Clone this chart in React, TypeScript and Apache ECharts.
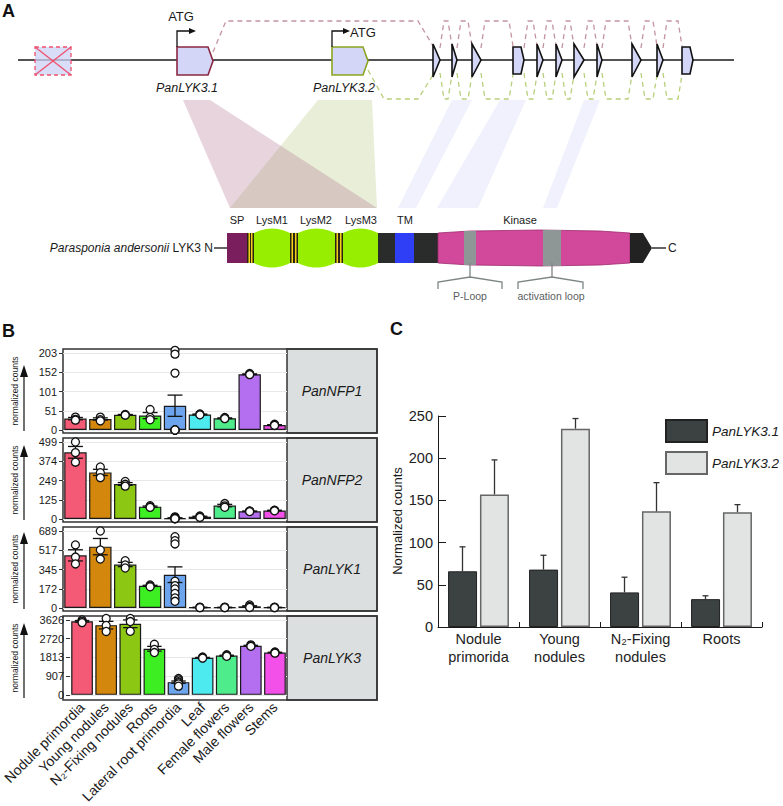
import React, { useEffect, useRef } from 'react';
import * as echarts from 'echarts';

// ---------------- DATA ----------------
const tissues = [
  'Nodule primordia', 'Young nodules', 'N₂-Fixing nodules', 'Roots', 'Lateral root primordia',
  'Leaf', 'Female flowers', 'Male flowers', 'Stems',
];
const tissueColors = ['#f45a76', '#d4870d', '#8cc813', '#3def22', '#6ca4ee', '#4debf0', '#4eec8b', '#b46ef0', '#f250e8'];
const genes = ['PanNFP1', 'PanNFP2', 'PanLYK1', 'PanLYK3'];

const ticksNFP1 = [0, 51, 101, 152, 203];
const ticksNFP2 = [0, 125, 249, 374, 499];
const ticksLYK1 = [0, 172, 345, 517, 689];
const ticksLYK3 = [0, 907, 1813, 2720, 3626];

const meanNFP1 = [30, 29, 40, 38, 64, 41, 31, 147, 13];
const seNFP1 = [3, 3, 1, 8, 28, 1, 1, 1, 1];
const ptsNFP1 = [[34, 28, 26], [34, 27, 24], [41, 40, 39], [54, 33, 27], [210, 200, 150, 0, 0, 0, 0, 0, 0], [42, 41, 40], [33, 31, 30], [149, 147, 146], [15, 13, 12]];

const meanNFP2 = [432, 302, 227, 80, 6, 15, 87, 50, 55];
const seNFP2 = [38, 20, 9, 4, 2, 3, 8, 2, 2];
const ptsNFP2 = [[499, 430, 368], [337, 300, 268], [243, 225, 213], [86, 80, 75], [14, 10, 8, 6, 5, 4, 3, 2, 2], [20, 15, 10], [100, 85, 76], [52, 50, 48], [57, 55, 53]];

const meanLYK1 = [471, 549, 389, 198, 298, 5, 5, 15, 5];
const seLYK1 = [50, 73, 19, 5, 70, 2, 2, 5, 2];
const ptsLYK1 = [[564, 456, 394], [689, 519, 438], [423, 385, 358], [206, 197, 190], [638, 602, 573, 240, 200, 170, 130, 90, 60], [8, 5, 3], [8, 5, 3], [27, 15, 5], [8, 5, 3]];

const meanLYK3 = [3563, 3377, 3443, 2233, 615, 1800, 1900, 2380, 2050];
const seLYK3 = [38, 183, 187, 117, 55, 15, 20, 20, 15];
const ptsLYK3 = [[3630, 3560, 3500], [3700, 3360, 3070], [3700, 3550, 3080], [2450, 2200, 2050], [790, 720, 640, 590, 530, 420], [1830, 1800, 1780], [1940, 1900, 1870], [2420, 2380, 2350], [2080, 2050, 2020]];

const categoriesC = ['Nodule\nprimorida', 'Young\nnodules', 'N₂-Fixing\nnodules', 'Roots'];
const lyk31 = [66, 68, 41, 33];
const lyk31Err = [29, 17, 18, 4];
const lyk32 = [157, 235, 137, 136];
const lyk32Err = [41, 12, 34, 9];
const ticksC = [0, 50, 100, 150, 200, 250];

// ---------------- LAYOUT / STYLE ----------------
const FONT = "'Liberation Sans', Arial, Helvetica, sans-serif";
const PANEL_TOPS = [349, 438, 527, 616];
const PANEL_H = 84;
const PLOT_L = 63;
const PLOT_R = 287;
const STRIP_R = 377;
const ARROW_OFF = [16, 7, 5, 7];

const panelsB = [
  { ticks: ticksNFP1, mean: meanNFP1, se: seNFP1, pts: ptsNFP1 },
  { ticks: ticksNFP2, mean: meanNFP2, se: seNFP2, pts: ptsNFP2 },
  { ticks: ticksLYK1, mean: meanLYK1, se: seLYK1, pts: ptsLYK1 },
  { ticks: ticksLYK3, mean: meanLYK3, se: seLYK3, pts: ptsLYK3 },
];

const smallExons: [number, number, string][] = [
  [433, 440, 't'], [452, 457, 't'], [472, 481, 't'], [513, 524, 'p'], [537, 543, 't'],
  [556, 562, 't'], [574, 584, 't'], [597, 602, 't'], [632, 641, 't'], [657, 663, 't'], [682, 693, 'p'],
];

function txt(x: number, y: number, text: string, o: any = {}) {
  const align = o.align || 'center';
  const va = o.va || 'middle';
  return {
    type: 'text', x, y, silent: true, rotation: o.rotation || 0,
    style: {
      text, fontSize: o.size || 12, fontFamily: FONT,
      fontStyle: o.italic ? 'italic' : 'normal', fontWeight: o.bold ? 'bold' : 'normal',
      fill: o.color || '#1a1a1a', textAlign: align, textVerticalAlign: va, align, verticalAlign: va,
      rich: o.rich,
    },
  };
}
const line = (x1: number, y1: number, x2: number, y2: number, stroke = '#1a1a1a', lineWidth = 1.3, dash?: number[]) => ({
  type: 'line', silent: true, shape: { x1, y1, x2, y2 }, style: { stroke, lineWidth, lineDash: dash },
});
const poly = (points: number[][], fill: string, stroke?: string, lineWidth = 1) => ({
  type: 'polygon', silent: true, shape: { points }, style: { fill, stroke: stroke || 'none', lineWidth },
});
const pline = (points: number[][], stroke: string, lineWidth = 1.3, dash?: number[]) => ({
  type: 'polyline', silent: true, shape: { points }, style: { fill: 'none', stroke, lineWidth, lineDash: dash },
});
const rect = (x: number, y: number, w: number, h: number, fill: string, stroke?: string, lineWidth = 1, dash?: number[]) => ({
  type: 'rect', silent: true, shape: { x, y, width: w, height: h }, style: { fill, stroke: stroke || 'none', lineWidth, lineDash: dash },
});

// arched domain outline (gentle bulge above and below the bar)
function archShape(a: number, b: number, top: number, bot: number, bulge: number) {
  const pts: number[][] = [];
  const n = 12;
  for (let j = 0; j <= n; j++) {
    const t = -1 + (2 * j) / n;
    pts.push([a + ((b - a) * j) / n, top - bulge * (1 - t * t)]);
  }
  for (let j = n; j >= 0; j--) {
    const t = -1 + (2 * j) / n;
    pts.push([a + ((b - a) * j) / n, bot + bulge * (1 - t * t)]);
  }
  return pts;
}

function buildGraphics() {
  const el: any[] = [];
  // panel letters
  el.push(txt(2, 2, 'A', { size: 18, bold: true, align: 'left', va: 'top', color: '#111' }));
  el.push(txt(2, 322, 'B', { size: 18, bold: true, align: 'left', va: 'top', color: '#111' }));
  el.push(txt(390, 320, 'C', { size: 18, bold: true, align: 'left', va: 'top', color: '#111' }));

  // ---- Panel A: projections
  el.push(poly([[318, 100], [372, 100], [377, 208], [230, 208]], 'rgba(190,205,140,0.35)'));
  el.push(poly([[183, 100], [210, 100], [377, 208], [230, 208]], 'rgba(180,120,150,0.32)'));
  el.push(poly([[452, 100], [472, 100], [416, 208], [398, 208]], 'rgba(200,205,245,0.28)'));
  el.push(poly([[500, 100], [526, 100], [478, 208], [437, 208]], 'rgba(200,205,245,0.28)'));
  el.push(poly([[584, 100], [600, 100], [557, 208], [543, 208]], 'rgba(200,205,245,0.28)'));

  // gene line
  el.push(line(18, 60, 734, 60, '#1a1a1a', 1.6));
  // crossed pseudo exon
  el.push(rect(35, 47, 36, 28, 'rgba(205,210,245,0.75)', '#f0506e', 1.3, [4, 3]));
  el.push(line(35, 47, 71, 75, '#f0506e', 1.3));
  el.push(line(35, 75, 71, 47, '#f0506e', 1.3));

  // dashed splicing paths
  const up = '#c4949f';
  const lo = '#b8cf7a';
  const dash = [5, 4];
  el.push(pline([[213, 52], [226, 21], [418, 21], [433, 46]], up, 1.3, dash));
  el.push(pline([[368, 70], [384, 99], [418, 99], [433, 75]], lo, 1.3, dash));
  for (let i = 0; i < smallExons.length - 1; i++) {
    const a = smallExons[i][1];
    const b = smallExons[i + 1][0];
    el.push(pline([[a, 48], [a + 4, 21], [b - 4, 21], [b, 46]], up, 1.3, dash));
    el.push(pline([[a, 73], [a + 4, 99], [b - 4, 99], [b, 75]], lo, 1.3, dash));
  }

  // exons
  const exFill = '#d3d6f6';
  el.push(poly([[177, 47], [208, 47], [213, 61], [208, 75], [177, 75]], exFill, '#8b2942', 1.6));
  el.push(poly([[332, 47], [363, 47], [368, 61], [363, 75], [332, 75]], exFill, '#8aa520', 1.6));
  smallExons.forEach(([x0, x1, t]) => {
    if (t === 't') el.push(poly([[x0, 44], [x1, 60], [x0, 77]], exFill, '#111', 1.6));
    else el.push(poly([[x0, 47], [x1 - 3, 47], [x1, 60], [x1 - 3, 74], [x0, 74]], exFill, '#111', 1.6));
  });

  // ATG arrows
  el.push(pline([[177, 47], [177, 31], [190, 31]], '#111', 1.3));
  el.push(poly([[189, 28], [196, 31], [189, 34]], '#111'));
  el.push(txt(181, 16, 'ATG', { size: 13 }));
  el.push(pline([[332, 47], [332, 31], [344, 31]], '#111', 1.3));
  el.push(poly([[343, 28], [350, 31], [343, 34]], '#111'));
  el.push(txt(350, 32, 'ATG', { size: 13, align: 'left' }));
  el.push(txt(187, 88, 'PanLYK3.1', { size: 12.5, italic: true }));
  el.push(txt(344, 88, 'PanLYK3.2', { size: 12.5, italic: true }));

  // ---- protein
  el.push(txt(213, 248, '{i|Parasponia andersonii} LYK3 N', {
    size: 12, align: 'right',
    rich: { i: { fontStyle: 'italic', fontSize: 12, fontFamily: FONT, fill: '#1a1a1a' } },
  }));
  el.push(line(214, 248, 227, 248, '#111', 1.3));
  el.push(rect(227, 233, 20, 30, '#7b1e5e'));
  [[247, 254], [290, 298], [335, 343]].forEach(([a, b]) => {
    el.push(rect(a, 233, b - a, 30, '#2b2412'));
    el.push(rect(a + 1.5, 233, 1.5, 30, '#f2d01c'));
    el.push(rect(b - 3, 233, 1.5, 30, '#f2d01c'));
  });
  [[254, 290], [298, 335], [343, 378]].forEach(([a, b]) => {
    el.push(poly(archShape(a, b, 233, 263, 4.5), '#98ee00'));
  });
  el.push(rect(378, 233, 17, 30, '#2a2c2c'));
  el.push(rect(395, 233, 19, 30, '#2f3ff5'));
  el.push(rect(414, 233, 24, 30, '#2a2c2c'));
  el.push(poly([[438, 233], [470, 231], [540, 230], [600, 231], [630, 233], [630, 263], [600, 265], [540, 266], [470, 265], [438, 263]], '#d2489a', '#9c2b6e', 0.8));
  el.push(rect(464, 231, 12, 34, '#8f9696'));
  el.push(rect(543, 230, 18, 36, '#8f9696'));
  el.push(poly([[630, 233], [643, 233], [652, 248], [643, 263], [630, 263]], '#222'));
  el.push(line(652, 248, 666, 248, '#111', 1.3));
  el.push(txt(668, 248, 'C', { size: 12, align: 'left' }));
  // domain labels
  [['SP', 237], ['LysM1', 272], ['LysM2', 316], ['LysM3', 361], ['TM', 405], ['Kinase', 520]].forEach(([t, x]) => {
    el.push(txt(x as number, 220, t as string, { size: 11 }));
  });
  // brackets
  const bc = '#7d8585';
  el.push(line(470, 263, 470, 277, bc, 1.3));
  el.push(pline([[438, 289], [438, 282], [470, 277], [502, 282], [502, 289]], bc, 1.3));
  el.push(txt(470, 296, 'P-Loop', { size: 10.5, color: '#5a6060' }));
  el.push(line(552, 263, 552, 277, bc, 1.3));
  el.push(pline([[518, 289], [518, 282], [552, 277], [583, 282], [583, 289]], bc, 1.3));
  el.push(txt(551, 296, 'activation loop', { size: 10.5, color: '#5a6060' }));

  // ---- Panel B frames, strips, y titles
  PANEL_TOPS.forEach((t, k) => {
    el.push(rect(PLOT_R, t, STRIP_R - PLOT_R, PANEL_H, '#dcdfdf', '#333', 1.5));
    el.push(rect(PLOT_L, t, STRIP_R - PLOT_L, PANEL_H, 'transparent', '#333', 1.5));
    el.push(txt((PLOT_R + STRIP_R) / 2, t + PANEL_H / 2, genes[k], { size: 14, italic: true }));
    el.push(txt(15, t + PANEL_H / 2, 'normalized counts', { size: 8.5, rotation: Math.PI / 2 }));
    const h = t + ARROW_OFF[k];
    el.push(line(24, t + 82, 24, h + 10, '#111', 1.2));
    el.push(poly([[24, h], [20, h + 12], [28, h + 12]], '#111'));
  });

  // Panel C y title
  el.push(txt(397, 521, 'Normalized counts', { size: 13, rotation: Math.PI / 2 }));
  return el;
}

export default function App() {
  const ref = useRef<HTMLDivElement>(null);
  useEffect(() => {
    if (!ref.current) return;
    const chart = echarts.init(ref.current, undefined, { renderer: 'svg' });

    const grids: any[] = [];
    const xAxes: any[] = [];
    const yAxes: any[] = [];
    const series: any[] = [];

    panelsB.forEach((p, k) => {
      const max = p.ticks[p.ticks.length - 1];
      const step = max / 4;
      grids.push({ left: PLOT_L, top: PANEL_TOPS[k] + 4, width: PLOT_R - PLOT_L, height: 77 });
      xAxes.push({
        type: 'category', gridIndex: k, data: tissues,
        axisLine: { show: false }, axisTick: { show: false },
        axisLabel: {
          show: k === 3, rotate: 45, interval: 0, fontSize: 14, color: '#1a1a1a', margin: 10, fontFamily: FONT,
        },
      });
      yAxes.push({
        type: 'value', gridIndex: k, min: 0, max, interval: step,
        axisLine: { show: false },
        axisTick: { show: true, length: 4, lineStyle: { color: '#333' } },
        axisLabel: {
          fontSize: 11, color: '#1a1a1a', margin: 6, fontFamily: FONT,
          formatter: (v: number) => String(p.ticks[Math.round(v / step)]),
        },
        splitLine: { show: true, lineStyle: { color: '#e8e8e8', width: 1 } },
      });
      series.push({
        type: 'bar', xAxisIndex: k, yAxisIndex: k, barWidth: '90%', z: 2,
        data: p.mean.map((v, i) => ({ value: v, itemStyle: { color: tissueColors[i] } })),
        itemStyle: { borderColor: '#1a1a1a', borderWidth: 1.2 },
      });
      series.push({
        type: 'custom', xAxisIndex: k, yAxisIndex: k, z: 3,
        data: p.mean.map((v, i) => [i, v - p.se[i], v + p.se[i]]),
        encode: { x: 0, y: [1, 2] },
        renderItem: (params: any, api: any) => {
          const i = api.value(0);
          const a = api.coord([i, api.value(1)]);
          const b = api.coord([i, api.value(2)]);
          const hw = api.size([1, 0])[0] * 0.3;
          const st = { stroke: '#111', lineWidth: 1.3 };
          return {
            type: 'group', children: [
              { type: 'line', shape: { x1: a[0], y1: a[1], x2: b[0], y2: b[1] }, style: st },
              { type: 'line', shape: { x1: a[0] - hw, y1: a[1], x2: a[0] + hw, y2: a[1] }, style: st },
              { type: 'line', shape: { x1: b[0] - hw, y1: b[1], x2: b[0] + hw, y2: b[1] }, style: st },
            ],
          };
        },
      });
      series.push({
        type: 'scatter', xAxisIndex: k, yAxisIndex: k, z: 4, clip: false,
        symbol: 'circle', symbolSize: 8,
        data: p.pts.flatMap((arr, i) => arr.map((v) => [i, v])),
        itemStyle: { color: '#ffffff', borderColor: '#111', borderWidth: 1.3, opacity: 1 },
      });
    });

    // Panel C
    grids.push({ left: 438, top: 416, width: 324, height: 211 });
    xAxes.push({
      type: 'category', gridIndex: 4, data: categoriesC,
      axisLine: { show: true, lineStyle: { color: '#1a1a1a', width: 1 } },
      axisTick: { show: true, inside: true, length: 5, lineStyle: { color: '#1a1a1a' } },
      axisLabel: { fontSize: 14.5, lineHeight: 18, color: '#222', margin: 3, interval: 0, fontFamily: FONT },
    });
    yAxes.push({
      type: 'value', gridIndex: 4, min: ticksC[0], max: ticksC[ticksC.length - 1], interval: 50,
      axisLine: { show: true, lineStyle: { color: '#1a1a1a', width: 1 } },
      axisTick: { show: true, inside: true, length: 8, lineStyle: { color: '#1a1a1a' } },
      axisLabel: { fontSize: 14.5, color: '#222', margin: 5, fontFamily: FONT },
      splitLine: { show: false },
    });
    series.push({
      name: 'PanLYK3.1', type: 'bar', xAxisIndex: 4, yAxisIndex: 4, barWidth: 29, barGap: '10%',
      data: lyk31, itemStyle: { color: '#3c4242', borderColor: '#222', borderWidth: 1 },
    });
    series.push({
      name: 'PanLYK3.2', type: 'bar', xAxisIndex: 4, yAxisIndex: 4, barWidth: 29, barGap: '10%',
      data: lyk32, itemStyle: { color: '#e2e4e3', borderColor: '#666', borderWidth: 1.5 },
    });
    const errC = (vals: number[], errs: number[], off: number, color: string) => ({
      type: 'custom', xAxisIndex: 4, yAxisIndex: 4, z: 5,
      data: vals.map((v, i) => [i, v, errs[i]]),
      encode: { x: 0, y: 1 },
      renderItem: (params: any, api: any) => {
        const i = api.value(0);
        const a = api.coord([i, api.value(1)]);
        const b = api.coord([i, api.value(1) + api.value(2)]);
        const x = a[0] + off;
        const st = { stroke: color, lineWidth: 1.3 };
        return {
          type: 'group', children: [
            { type: 'line', shape: { x1: x, y1: a[1], x2: x, y2: b[1] }, style: st },
            { type: 'line', shape: { x1: x - 3, y1: b[1], x2: x + 3, y2: b[1] }, style: st },
          ],
        };
      },
    });
    series.push(errC(lyk31, lyk31Err, -16, '#333'));
    series.push(errC(lyk32, lyk32Err, 16, '#333'));

    const option: any = {
      animation: false,
      textStyle: { fontFamily: FONT },
      grid: grids,
      xAxis: xAxes,
      yAxis: yAxes,
      legend: {
        data: ['PanLYK3.1', 'PanLYK3.2'], orient: 'vertical', left: 660, top: 414,
        itemWidth: 41, itemHeight: 22, itemGap: 8, icon: 'rect',
        textStyle: { fontSize: 13.5, fontStyle: 'italic', color: '#1a1a1a', fontFamily: FONT },
        selectedMode: false,
      },
      series,
      graphic: { elements: buildGraphics() },
    };
    chart.setOption(option);
    return () => chart.dispose();
  }, []);

  return <div ref={ref} style={{ position: 'absolute', left: 0, top: 0, width: 783, height: 806, background: '#fff' }} />;
}
